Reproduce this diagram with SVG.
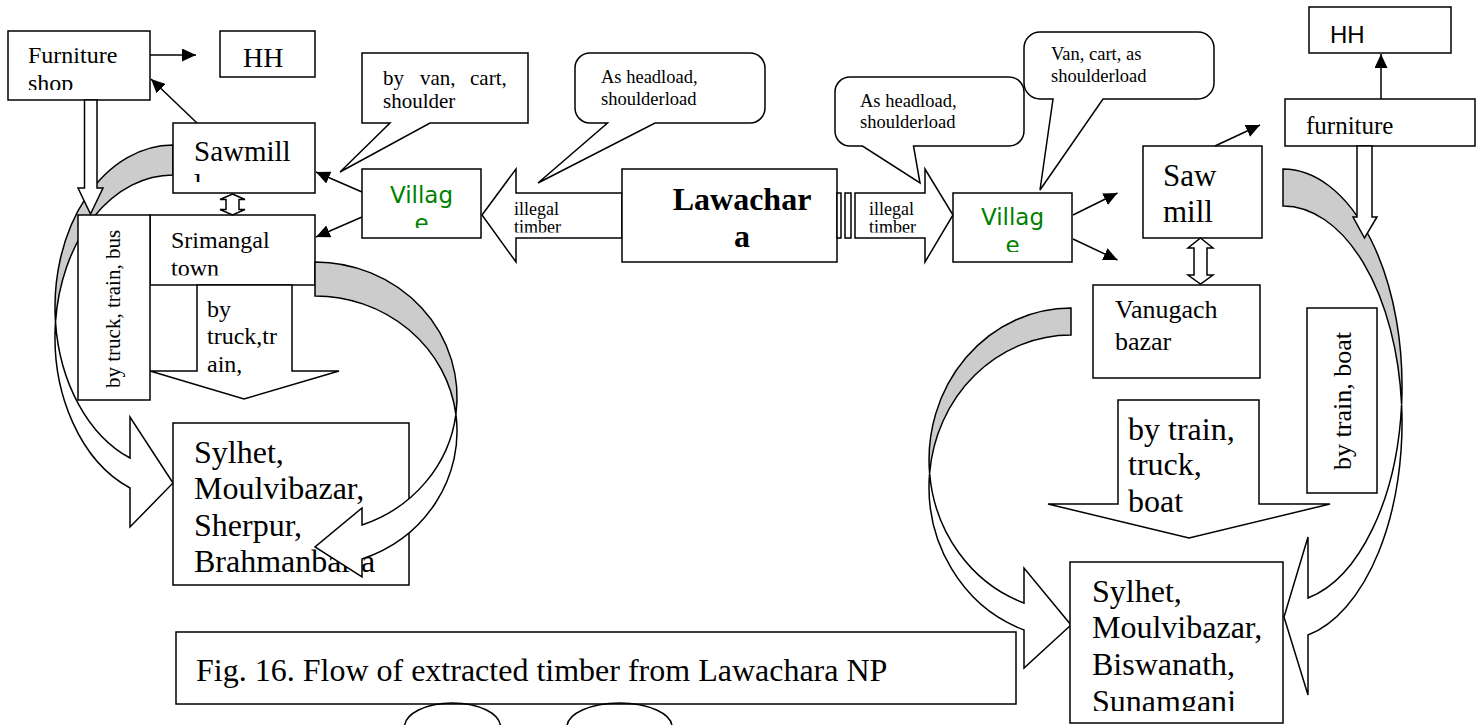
<svg xmlns="http://www.w3.org/2000/svg" width="1483" height="725" viewBox="0 0 1483 725">
  <style>
    .box { fill: #ffffff; stroke: #000000; stroke-width: 1.5; }
    .band { fill: #cccccc; stroke: #000000; stroke-width: 1.5; stroke-linejoin: miter; }
    .hollow { fill: #ffffff; stroke: #000000; stroke-width: 1.5; stroke-linejoin: miter; }
    .t { font-family: "Liberation Serif", "Times New Roman", serif; fill: #000000; }
    .b { font-weight: bold; }
    .v { font-family: "DejaVu Sans", Verdana, sans-serif; fill: #008000; font-size: 23px; text-anchor: middle; }
    .s { font-family: "Liberation Sans", Arial, sans-serif; fill: #000000; }
    .conn { stroke: #000000; stroke-width: 1.5; fill: none; marker-end: url(#ah); }
  </style>
  <defs>
    <marker id="ah" markerUnits="userSpaceOnUse" markerWidth="14" markerHeight="13" refX="14" refY="6.5" orient="auto">
      <path d="M0,0 L14,6.5 L0,13 Z" fill="#000000"/>
    </marker>
    <!-- text frames: lines that overflow a box are cut at its inner edge -->
    <clipPath id="cpFurn"><rect x="8" y="31" width="142" height="59"/></clipPath>
    <clipPath id="cpSawL"><rect x="173" y="123" width="142" height="59"/></clipPath>
    <clipPath id="cpSri"><rect x="150" y="215" width="165" height="60.5"/></clipPath>
    <clipPath id="cpVilL"><rect x="362" y="169" width="119" height="59"/></clipPath>
    <clipPath id="cpVilR"><rect x="953" y="193" width="119" height="59"/></clipPath>
    <clipPath id="cpTimL"><rect x="500" y="190" width="120" height="42.5"/></clipPath>
    <clipPath id="cpTimR"><rect x="855" y="190" width="70" height="42.5"/></clipPath>
    <clipPath id="cpSylR"><rect x="1070" y="562" width="213" height="149"/></clipPath>
  </defs>

  <!-- curved route: Sawmill round the west side to the Sylhet group -->
  <g id="curve-sawmill-west">
    <path class="band" d="M173,145 A118,162.1 0 0 0 55.5,322.1 A118,162.1 0 0 1 173,175 Z"/>
    <path class="hollow" d="M55.5,322.1 A118,162.1 0 0 0 130,488 L130,527 L173,483 L130,417 L130,458 A118,162.1 0 0 1 55.5,322.1 Z"/>
  </g>

  <!-- curved route: east Saw mill round to the Sunamganj group -->
  <g id="curve-sawmill-east">
    <path class="band" d="M1283,169 A119,217 0 0 1 1401.6,404.5 A119,217 0 0 0 1283,206 Z"/>
    <path class="hollow" d="M1401.6,404.5 A119,217 0 0 1 1308,635 L1308,695 L1284,617 L1308,537 L1308,598 A119,217 0 0 0 1401.6,404.5 Z"/>
  </g>

  <!-- curved route: Vanugach bazar round the west side to the Sunamganj group -->
  <g id="curve-vanugach">
    <path class="band" d="M1071,308 A142,151.8 0 0 0 929.6,473.3 A142,151.8 0 0 1 1071,335 Z"/>
    <path class="hollow" d="M929.6,473.3 A142,151.8 0 0 0 1024,630 L1024,668 L1071,625 L1024,568 L1024,603 A142,151.8 0 0 1 929.6,473.3 Z"/>
  </g>

  <!-- west side -->
  <g id="furniture-shop">
    <rect class="box" x="8" y="31" width="142" height="69"/>
    <g clip-path="url(#cpFurn)">
      <text class="t" x="28" y="63" font-size="24">Furniture</text>
      <text class="t" x="28" y="91" font-size="24">shop</text>
    </g>
  </g>

  <g id="hh-west">
    <rect class="box" x="220" y="31" width="95" height="46"/>
    <text class="t" x="243" y="67" font-size="28">HH</text>
  </g>

  <g id="sawmill-west">
    <rect class="box" x="173" y="123" width="142" height="70"/>
    <g clip-path="url(#cpSawL)">
      <text class="t" x="194" y="161" font-size="29">Sawmill</text>
      <text class="t" x="194" y="194" font-size="29">l</text>
    </g>
  </g>

  <g id="srimangal">
    <rect class="box" x="150" y="215" width="165" height="70"/>
    <g clip-path="url(#cpSri)">
      <text class="t" x="171" y="248" font-size="24">Srimangal</text>
      <text class="t" x="171" y="276" font-size="24">town</text>
    </g>
  </g>

  <g id="mode-truck-train-bus">
    <rect class="box" x="78" y="215" width="72" height="185"/>
    <text class="t" font-size="21" transform="translate(119.5,388) rotate(-90)">by truck, train, bus</text>
  </g>

  <g id="mode-truck-train">
    <polygon class="hollow" points="197,285 292,285 292,371 339,371 244,399 150,371 197,371"/>
    <text class="t" x="207" y="317" font-size="24">by</text>
    <text class="t" x="207" y="344" font-size="24">truck,tr</text>
    <text class="t" x="207" y="372" font-size="24">ain,</text>
  </g>

  <g id="markets-west">
    <rect class="box" x="173" y="423" width="236" height="162"/>
    <text class="t" x="194" y="463" font-size="32">Sylhet,</text>
    <text class="t" x="194" y="499" font-size="32">Moulvibazar,</text>
    <text class="t" x="194" y="536" font-size="32">Sherpur,</text>
    <text class="t" x="194" y="572" font-size="32">Brahmanbaria</text>
  </g>

  <g id="shop-to-town">
    <polygon class="hollow" points="84.5,100 97,100 97,188 103,188 90.5,214 78,188 84.5,188"/>
  </g>

  <g id="sawmill-town-link">
    <polygon class="hollow" points="232.5,194 245,199.5 239,199.5 239,209.5 245,209.5 232.5,215 220,209.5 226,209.5 226,199.5 220,199.5"/>
  </g>

  <!-- curved route: Srimangal town round the east side to the Sylhet group -->
  <g id="curve-srimangal">
    <path class="band" d="M315,262 A142,135.3 0 0 1 455.9,414.3 A142,135.3 0 0 0 315,296 Z"/>
    <path class="hollow" d="M455.9,414.3 A142,135.3 0 0 1 362,559 L362,577 L315,547 L362,508 L362,525 A142,135.3 0 0 0 455.9,414.3 Z"/>
  </g>

  <g id="note-van-cart">
    <path class="box" d="M362,53 H528 V123 H430 L340,172 L390,123 H362 Z"/>
    <text class="t" y="85" font-size="21"><tspan x="383">by</tspan><tspan x="420">van,</tspan><tspan x="470">cart,</tspan></text>
    <text class="t" x="383" y="108" font-size="21">shoulder</text>
  </g>

  <g id="village-west">
    <rect class="box" x="362" y="169" width="119" height="69"/>
    <g clip-path="url(#cpVilL)">
      <text class="v" x="421.5" y="203">Villag</text>
      <text class="v" x="421.5" y="231">e</text>
    </g>
  </g>

  <g id="flow-west">
    <polygon class="hollow" points="482,215 516,169 516,193 622,193 622,238 516,238 516,262"/>
    <g clip-path="url(#cpTimL)">
      <text class="t" x="514" y="215" font-size="18">illegal</text>
      <text class="t" x="514" y="233" font-size="18">timber</text>
    </g>
  </g>

  <g id="note-headload-west">
    <path class="box" d="M590,53 H750 A15,15 0 0 1 765,68 V108 A15,15 0 0 1 750,123 H655 L538,183 L607.5,123 H590 A15,15 0 0 1 575,108 V68 A15,15 0 0 1 590,53 Z"/>
    <text class="t" x="601" y="83" font-size="18.5">As headload,</text>
    <text class="t" x="601" y="105" font-size="18.5">shoulderload</text>
  </g>

  <!-- centre -->
  <g id="lawachara">
    <rect class="box" x="622" y="169" width="215" height="93"/>
    <text class="t b" x="742" y="210" font-size="32" text-anchor="middle">Lawachar</text>
    <text class="t b" x="742" y="247" font-size="32" text-anchor="middle">a</text>
  </g>

  <!-- east side -->
  <g id="flow-east">
    <rect class="hollow" x="837" y="193" width="4" height="45"/>
    <rect class="hollow" x="845" y="193" width="6" height="45"/>
    <polygon class="hollow" points="855,193 925,193 925,169 953,215 925,262 925,238 855,238"/>
    <g clip-path="url(#cpTimR)">
      <text class="t" x="869" y="215" font-size="18">illegal</text>
      <text class="t" x="869" y="233" font-size="18">timber</text>
    </g>
  </g>

  <g id="note-headload-east">
    <path class="box" d="M850,77 H1009 A15,15 0 0 1 1024,92 V131 A15,15 0 0 1 1009,146 H913.5 L920,183 L862.5,146 H850 A15,15 0 0 1 835,131 V92 A15,15 0 0 1 850,77 Z"/>
    <text class="t" x="860" y="107" font-size="18.5">As headload,</text>
    <text class="t" x="860" y="128" font-size="18.5">shoulderload</text>
  </g>

  <g id="note-van-cart-east">
    <path class="box" d="M1040,32 H1198 A16,16 0 0 1 1214,48 V83 A16,16 0 0 1 1198,99 H1103 L1040,190 L1053,99 H1040 A16,16 0 0 1 1024,83 V48 A16,16 0 0 1 1040,32 Z"/>
    <text class="t" x="1051" y="60" font-size="18.5">Van, cart, as</text>
    <text class="t" x="1051" y="82" font-size="18.5">shoulderload</text>
  </g>

  <g id="village-east">
    <rect class="box" x="953" y="193" width="119" height="69"/>
    <g clip-path="url(#cpVilR)">
      <text class="v" x="1012.5" y="225">Villag</text>
      <text class="v" x="1012.5" y="253">e</text>
    </g>
  </g>

  <g id="sawmill-east">
    <rect class="box" x="1143" y="146" width="119" height="92"/>
    <text class="t" x="1163" y="186" font-size="31">Saw</text>
    <text class="t" x="1163" y="222" font-size="31">mill</text>
  </g>

  <g id="furniture-east">
    <rect class="box" x="1285" y="99" width="190" height="47"/>
    <text class="t" x="1306" y="134" font-size="25">furniture</text>
  </g>

  <g id="hh-east">
    <rect class="box" x="1309" y="7" width="142" height="46"/>
    <text class="s" x="1330" y="43" font-size="24">HH</text>
  </g>

  <g id="furniture-to-markets">
    <polygon class="hollow" points="1357,146 1372,146 1372,217 1377,217 1364.5,238 1353,217 1357,217"/>
  </g>

  <g id="sawmill-bazar-link">
    <polygon class="hollow" points="1200.5,238 1213,248 1207,248 1207,275 1213,275 1200.5,284 1188,275 1194,275 1194,248 1188,248"/>
  </g>

  <g id="vanugach-bazar">
    <rect class="box" x="1093" y="285" width="167" height="93"/>
    <text class="t" x="1115" y="318" font-size="26">Vanugach</text>
    <text class="t" x="1115" y="350" font-size="26">bazar</text>
  </g>

  <g id="mode-train-truck-boat">
    <polygon class="hollow" points="1118,400 1259,400 1259,504 1330,504 1189,538 1048,504 1118,504"/>
    <text class="t" x="1128" y="440" font-size="32">by train,</text>
    <text class="t" x="1128" y="475" font-size="32">truck,</text>
    <text class="t" x="1128" y="512" font-size="32">boat</text>
  </g>

  <g id="mode-train-boat">
    <rect class="box" x="1307" y="308" width="70" height="185"/>
    <text class="t" font-size="26" transform="translate(1351,470) rotate(-90)">by train, boat</text>
  </g>

  <g id="markets-east">
    <rect class="box" x="1070" y="562" width="213" height="161"/>
    <g clip-path="url(#cpSylR)">
      <text class="t" x="1092" y="602" font-size="32">Sylhet,</text>
      <text class="t" x="1092" y="638" font-size="32">Moulvibazar,</text>
      <text class="t" x="1092" y="675" font-size="32">Biswanath,</text>
      <text class="t" x="1092" y="712" font-size="32">Sunamganj</text>
    </g>
  </g>

  <g id="caption">
    <rect class="box" x="176" y="632" width="840" height="72"/>
    <text class="t" x="196" y="681" font-size="32">Fig. 16. Flow of extracted timber from Lawachara NP</text>
  </g>

  <g id="ovals">
    <ellipse cx="452.5" cy="727" rx="48" ry="24" fill="none" stroke="#000000" stroke-width="1.5"/>
    <ellipse cx="619.5" cy="727" rx="52.5" ry="24" fill="none" stroke="#000000" stroke-width="1.5"/>
  </g>

  <!-- plain connectors -->
  <g id="connectors">
    <line class="conn" x1="150" y1="55" x2="196" y2="55"/>
    <line class="conn" x1="197" y1="123" x2="151" y2="79"/>
    <line class="conn" x1="362" y1="192" x2="316" y2="172"/>
    <line class="conn" x1="362" y1="217" x2="316" y2="237"/>
    <line class="conn" x1="1073" y1="215" x2="1117.5" y2="193"/>
    <line class="conn" x1="1073" y1="239" x2="1117.5" y2="260"/>
    <line class="conn" x1="1215" y1="146" x2="1260" y2="125"/>
    <line class="conn" x1="1381" y1="99" x2="1381" y2="54"/>
  </g>
</svg>
